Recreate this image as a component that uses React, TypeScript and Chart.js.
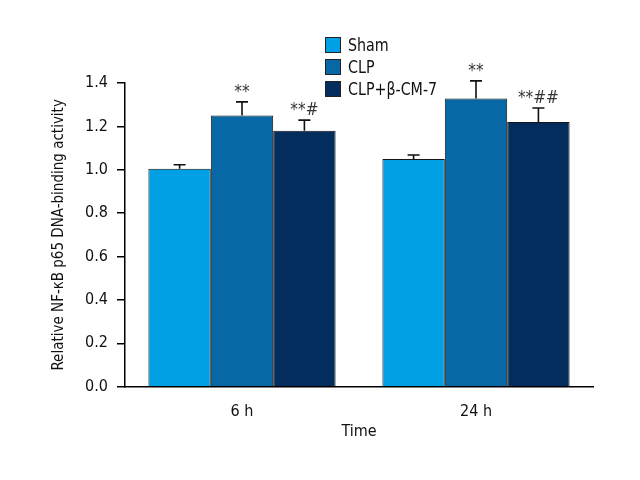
import React, { useEffect, useRef } from 'react';
import { Chart, registerables } from 'chart.js';

Chart.register(...registerables);

const categories = ['6 h', '24 h'];
const seriesNames = ['Sham', 'CLP', 'CLP+β-CM-7'];
const seriesColors = ['#00a0e4', '#0868a6', '#022d5c'];
const shamValues = [1.005, 1.05];
const clpValues = [1.25, 1.328];
const cmValues = [1.18, 1.22];
const shamErrors = [0.018, 0.018];
const clpErrors = [0.063, 0.082];
const cmErrors = [0.049, 0.065];
const shamMarks = ['', ''];
const clpMarks = ['**', '**'];
const cmMarks = ['**#', '**##'];
const yMin = 0;
const yMax = 1.4;
const yStep = 0.2;
const yTitle = 'Relative NF-κB p65 DNA-binding activity';
const xTitle = 'Time';

const FONT = "'Liberation Sans Narrow', 'DejaVu Sans Condensed', 'Arial Narrow', sans-serif";

const seriesValues = [shamValues, clpValues, cmValues];
const seriesErrors = [shamErrors, clpErrors, cmErrors];
const seriesMarks = [shamMarks, clpMarks, cmMarks];

const errorBarPlugin = {
  id: 'errorBars',
  afterDatasetsDraw(chart: any) {
    const ctx = chart.ctx;
    const yScale = chart.scales.y;
    chart.data.datasets.forEach((ds: any, di: number) => {
      const meta = chart.getDatasetMeta(di);
      meta.data.forEach((bar: any, i: number) => {
        const v = ds.data[i];
        const e = ds.errors[i];
        const yTop = yScale.getPixelForValue(v + e);
        const yBar = yScale.getPixelForValue(v);
        ctx.save();
        ctx.strokeStyle = '#111';
        ctx.lineWidth = 1.6;
        ctx.beginPath();
        ctx.moveTo(bar.x, yBar);
        ctx.lineTo(bar.x, yTop);
        ctx.moveTo(bar.x - 6, yTop);
        ctx.lineTo(bar.x + 6, yTop);
        ctx.stroke();
        const mark = ds.marks[i];
        if (mark) {
          ctx.fillStyle = '#333';
          ctx.font = `17px ${FONT}`;
          ctx.textAlign = 'center';
          ctx.textBaseline = 'alphabetic';
          ctx.fillText(mark, bar.x, yTop - 5);
        }
        ctx.restore();
      });
    });
  },
};

const legendPlugin = {
  id: 'customLegend',
  afterDraw(chart: any) {
    const ctx = chart.ctx;
    const boxX = 325;
    const firstTop = 37;
    const rowGap = 22;
    const size = 16;
    chart.data.datasets.forEach((ds: any, i: number) => {
      const top = firstTop + i * rowGap;
      ctx.save();
      ctx.fillStyle = ds.backgroundColor;
      ctx.fillRect(boxX, top, size, size);
      ctx.strokeStyle = '#222';
      ctx.lineWidth = 1;
      ctx.strokeRect(boxX + 0.5, top + 0.5, size - 1, size - 1);
      ctx.fillStyle = '#111';
      ctx.font = `18px ${FONT}`;
      ctx.textAlign = 'left';
      ctx.textBaseline = 'middle';
      ctx.translate(boxX + 23, top + size / 2 + 1);
      ctx.scale(0.88, 1);
      ctx.fillText(ds.label, 0, 0);
      ctx.restore();
    });
  },
};

export default function App() {
  const canvasRef = useRef<HTMLCanvasElement | null>(null);

  useEffect(() => {
    if (!canvasRef.current) return;
    const chart = new Chart(canvasRef.current, {
      type: 'bar',
      data: {
        labels: categories,
        datasets: seriesNames.map((name, i) => ({
          label: name,
          data: seriesValues[i],
          errors: seriesErrors[i],
          marks: seriesMarks[i],
          backgroundColor: seriesColors[i],
          borderColor: '#151515',
          borderWidth: 1,
          categoryPercentage: 0.8,
          barPercentage: 1.0,
        })) as any,
      },
      options: {
        animation: false,
        responsive: false,
        layout: { padding: { left: 40, top: 83, right: 47, bottom: 0 } },
        plugins: {
          legend: { display: false },
          tooltip: { enabled: false },
        },
        scales: {
          x: {
            grid: { display: false },
            border: { display: true, color: '#000', width: 1.5 },
            ticks: { color: '#111', font: { family: FONT, size: 16 }, padding: 8 },
            title: {
              display: true,
              text: xTitle,
              color: '#111',
              font: { family: FONT, size: 16 },
              padding: { top: 0, bottom: 39 },
            },
            afterFit(scale: any) {
              scale.height = 93.3;
            },
          },
          y: {
            min: yMin,
            max: yMax,
            grid: {
              display: true,
              drawOnChartArea: false,
              drawTicks: true,
              tickLength: 8,
              color: '#000',
              lineWidth: 1.5,
            },
            border: { display: true, color: '#000', width: 1.5 },
            ticks: {
              stepSize: yStep,
              color: '#111',
              font: { family: FONT, size: 16 },
              padding: 9,
              callback: (v: any) => Number(v).toFixed(1),
            },
            title: {
              display: true,
              text: yTitle,
              color: '#111',
              font: { family: FONT, size: 15 },
              padding: { top: 10, bottom: 0 },
            },
            afterFit(scale: any) {
              scale.width = 85;
            },
          },
        },
      },
      plugins: [errorBarPlugin, legendPlugin],
    });
    return () => chart.destroy();
  }, []);

  return (
    <div style={{ position: 'fixed', left: 0, top: 0, width: 640, height: 480, background: '#fff' }}>
      <canvas ref={canvasRef} width={640} height={480} />
    </div>
  );
}
